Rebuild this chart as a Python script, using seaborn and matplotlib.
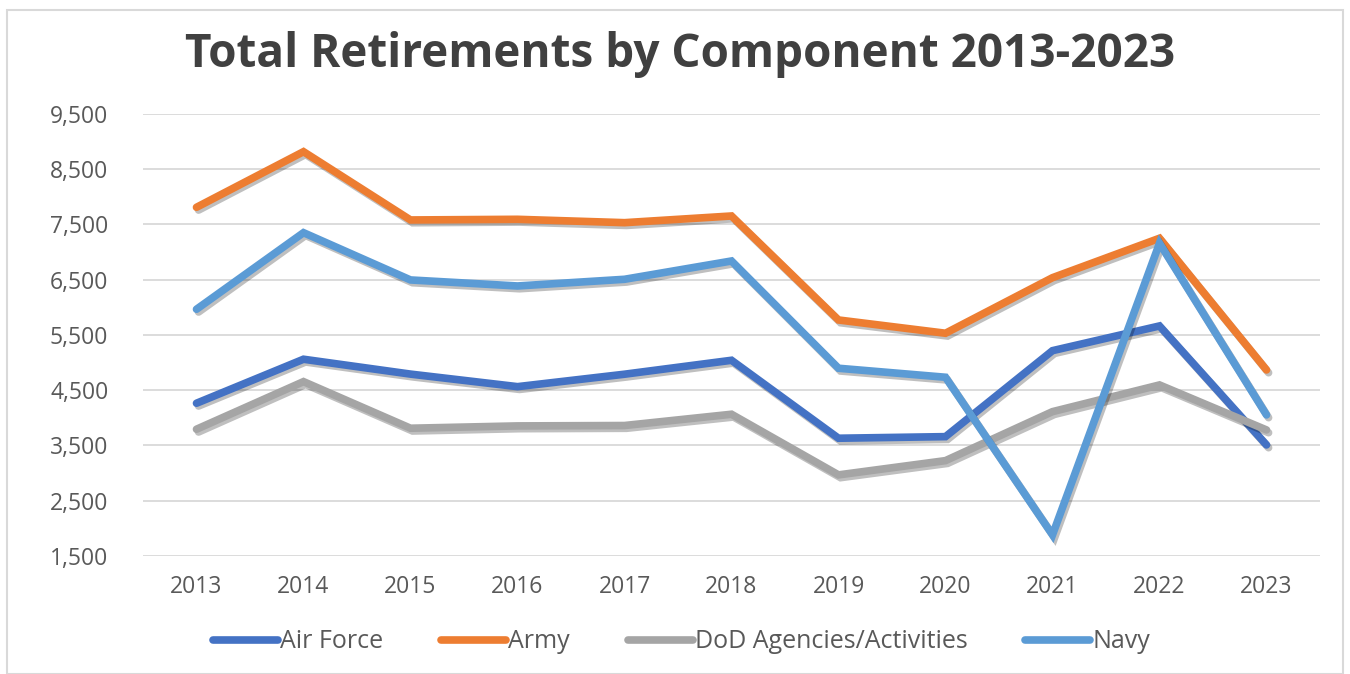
import pandas as pd
import matplotlib.pyplot as plt
import matplotlib.patheffects as pe
from matplotlib.patches import Rectangle
import seaborn as sns

# Data
years = [2013, 2014, 2015, 2016, 2017, 2018, 2019, 2020, 2021, 2022, 2023]
air_force = [4263, 5059, 4790, 4563, 4788, 5040, 3630, 3659, 5214, 5661, 3509]
army = [7807, 8813, 7578, 7590, 7529, 7650, 5769, 5529, 6534, 7247, 4865]
dod = [3793, 4654, 3811, 3853, 3860, 4064, 2967, 3225, 4111, 4594, 3780]
navy = [5963, 7348, 6493, 6384, 6505, 6836, 4896, 4733, 1882, 7157, 4052]

components = ['Air Force', 'Army', 'DoD Agencies/Activities', 'Navy']
colors = ['#4472C4', '#ED7D31', '#A5A5A5', '#5B9BD5']
y_ticks = [1500, 2500, 3500, 4500, 5500, 6500, 7500, 8500, 9500]

rows = []
for name, vals in zip(components, [air_force, army, dod, navy]):
    for i, v in enumerate(vals):
        rows.append({'idx': i, 'Year': years[i], 'Component': name, 'Retirements': v})
df = pd.DataFrame(rows)

sns.set_style('white')
plt.rcParams['font.family'] = ['Open Sans', 'DejaVu Sans']

fig = plt.figure(figsize=(13.5, 6.74), dpi=100)
ax = fig.add_axes([143 / 1350, 1 - 556 / 674, (1320 - 143) / 1350, (556 - 113.7) / 674])

sns.lineplot(data=df, x='idx', y='Retirements', hue='Component',
             palette=colors, hue_order=components, linewidth=5.5,
             ax=ax, legend=False)

for line in ax.lines:
    line.set_solid_capstyle('round')
    line.set_solid_joinstyle('miter')
    line.set_path_effects([pe.SimpleLineShadow(offset=(1.5, -2), alpha=0.25, shadow_color='black'),
                           pe.Normal()])

ax.set_xlim(-0.5, len(years) - 0.5)
ax.set_ylim(1500, 9500)
ax.set_yticks(y_ticks)
ax.set_yticklabels([f'{t:,}' for t in y_ticks])
ax.set_xticks(range(len(years)))
ax.set_xticklabels([str(y) for y in years])
ax.tick_params(axis='both', length=0, labelsize=16.5, labelcolor='#595959')
ax.tick_params(axis='y', pad=25)
ax.tick_params(axis='x', pad=14)
ax.grid(axis='y', color='#D9D9D9', linewidth=1.3)
ax.set_axisbelow(True)
for s in ax.spines.values():
    s.set_visible(False)
ax.set_xlabel('')
ax.set_ylabel('')

fig.text(0.504, 1 - 55 / 674, 'Total Retirements by Component 2013-2023',
         ha='center', va='center', fontsize=33, fontweight='bold', color='#404040')

# Legend
handles = [plt.Line2D([0], [0], color=c, linewidth=5.5, solid_capstyle='round') for c in colors]
fig.legend(handles, components, loc='center', bbox_to_anchor=(0.505, 1 - 642 / 674),
           ncol=4, frameon=False, fontsize=18, handlelength=2.6, handletextpad=0.1,
           columnspacing=2.3, labelcolor='#595959')

fig.patches.append(Rectangle((7 / 1350, 0), 1 - 14 / 1350, 1 - 10 / 674, transform=fig.transFigure,
                             fill=False, edgecolor='#D9D9D9', linewidth=1.5))

plt.savefig('out.png', dpi=100)
